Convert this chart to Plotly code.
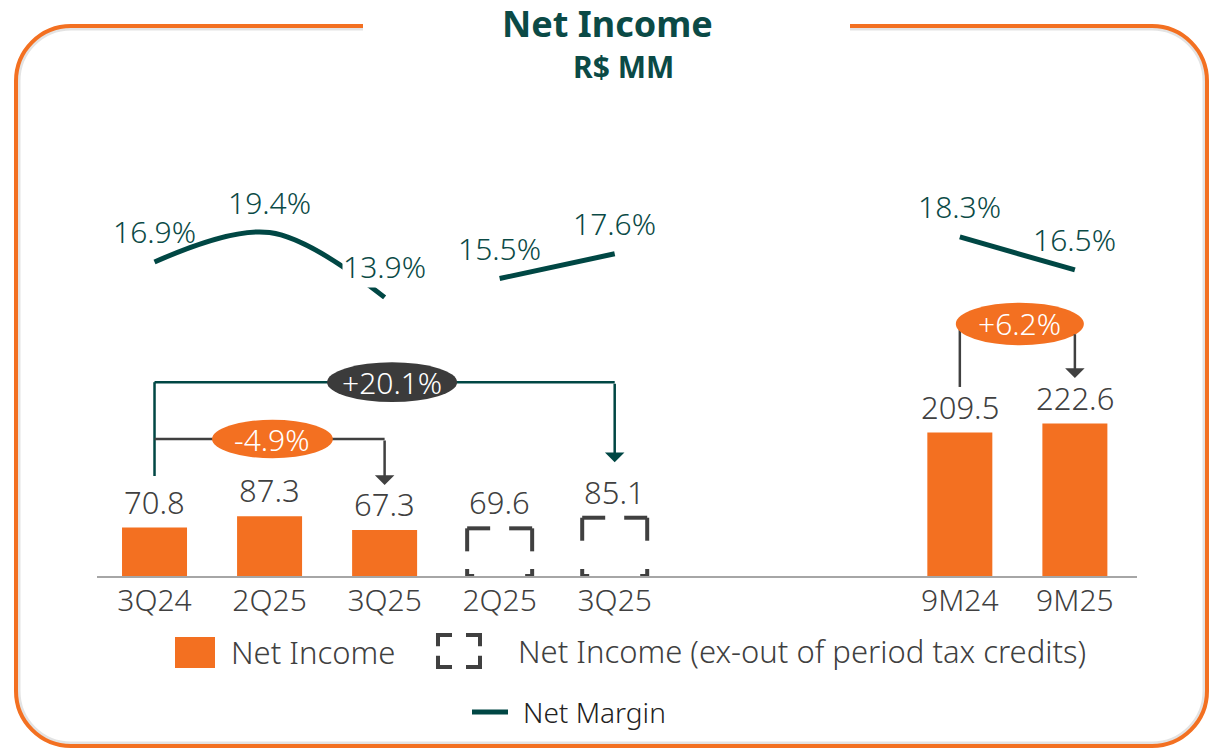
import plotly.graph_objects as go

# data
quarters = ["3Q24", "2Q25", "3Q25"]
net_income_q = [70.8, 87.3, 67.3]
adj_quarters = ["2Q25", "3Q25"]
net_income_adj = [69.6, 85.1]
ytd = ["9M24", "9M25"]
net_income_ytd = [209.5, 222.6]
margin_q = [16.9, 19.4, 13.9]
margin_adj = [15.5, 17.6]
margin_ytd = [18.3, 16.5]
changes = ["+20.1%", "-4.9%", "+6.2%"]

ORANGE = "#F37021"
TEAL = "#004744"
TEXT_TEAL = "#0B4A46"
GREY = "#404040"
DARK = "#3B3B3B"
FONT = "Noto Sans"

W, H = 1216, 750
L, R, T, B = 97, 79, 100, 174
PW, PH = W - L - R, H - T - B


def px(x):
    return (x - L) / PW


def py(y):
    return (H - B - y) / PH


pos_q = [0, 1, 2]
pos_adj = [3, 4]
pos_ytd = [7, 8]
bar_w = 0.565

fig = go.Figure()

fig.add_trace(go.Bar(x=pos_q + pos_ytd, y=net_income_q + net_income_ytd,
                     width=bar_w, marker=dict(color=ORANGE, line_width=0),
                     showlegend=False, hoverinfo="skip"))

# dashed (bracket-corner) boxes for the adjusted values
top_x, top_y, bot_x, bot_y = [], [], [], []
for p, v in zip(pos_adj, net_income_adj):
    x0, x1 = p - bar_w / 2, p + bar_w / 2
    for cx in (x0, x1):
        top_x += [cx, p, None, cx, cx, None]
        top_y += [v, v, None, v, v / 2, None]
        bot_x += [cx, cx, None, cx, p, None]
        bot_y += [0, v / 2, None, 0, 0, None]
fig.add_trace(go.Scatter(x=top_x, y=top_y, mode="lines", connectgaps=False,
                         line=dict(color=GREY, width=4, dash="23px,400px"),
                         showlegend=False, hoverinfo="skip"))
fig.add_trace(go.Scatter(x=bot_x, y=bot_y, mode="lines", connectgaps=False,
                         line=dict(color=GREY, width=4, dash="7px,400px"),
                         showlegend=False, hoverinfo="skip"))

# net margin lines
fig.add_trace(go.Scatter(x=pos_q, y=margin_q, yaxis="y2", mode="lines",
                         line=dict(color=TEAL, width=5, shape="spline", smoothing=1),
                         showlegend=False, hoverinfo="skip"))
fig.add_trace(go.Scatter(x=pos_adj, y=margin_adj, yaxis="y2", mode="lines",
                         line=dict(color=TEAL, width=5),
                         showlegend=False, hoverinfo="skip"))
fig.add_trace(go.Scatter(x=pos_ytd, y=margin_ytd, yaxis="y3", mode="lines",
                         line=dict(color=TEAL, width=5),
                         showlegend=False, hoverinfo="skip"))

annotations = []
val_font = dict(family=FONT, size=31, color=GREY, weight=300)
for p, v in zip(pos_q + pos_adj + pos_ytd, net_income_q + net_income_adj + net_income_ytd):
    annotations.append(dict(x=p, y=v, xref="x", yref="y", text=f"{v:.1f}",
                            showarrow=False, yanchor="bottom", yshift=3, font=val_font))

m_font = dict(family=FONT, size=30, color=TEXT_TEAL, weight=300)
for ax, ps, vs in (("y2", pos_q, margin_q), ("y2", pos_adj, margin_adj), ("y3", pos_ytd, margin_ytd)):
    for p, v in zip(ps, vs):
        # the label of the dip sits on the curve and masks it
        bg = "white" if v == min(margin_q) else "rgba(0,0,0,0)"
        annotations.append(dict(x=p, y=v, xref="x", yref=ax, text=f"{v:.1f}%",
                                showarrow=False, yanchor="bottom", yshift=9,
                                bgcolor=bg, borderpad=0, font=m_font))

# change brackets (data units of the bar axis)
shapes = []


def seg(x0, y0, x1, y1, color):
    shapes.append(dict(type="line", xref="x", yref="y", x0=x0, y0=y0, x1=x1, y1=y1,
                       line=dict(color=color, width=2.5)))


def arrow(x, y_from, y_to, color):
    annotations.append(dict(x=x, y=y_to, ax=x, ay=y_from, xref="x", yref="y",
                            axref="x", ayref="y", text="", showarrow=True,
                            arrowhead=1, arrowsize=1.3, arrowwidth=2.5,
                            arrowcolor=color, standoff=0))


def bubble(x0, x1, y0, y1, fill, label):
    shapes.append(dict(type="circle", xref="x", yref="y", x0=x0, x1=x1, y0=y0, y1=y1,
                       fillcolor=fill, line=dict(width=0)))
    annotations.append(dict(x=(x0 + x1) / 2, y=(y0 + y1) / 2, xref="x", yref="y",
                            text=label, showarrow=False,
                            font=dict(family=FONT, size=30, color="white", weight=300)))


# 3Q24 -> 3Q25 ex-credits
seg(pos_q[0], 146, pos_q[0], 283, TEAL)
seg(pos_q[0], 283, pos_adj[1], 283, TEAL)
arrow(pos_adj[1], 283, 166, TEAL)
bubble(1.50, 2.63, 254, 312, DARK, changes[0])

# 3Q24 -> 3Q25
seg(pos_q[0], 200, pos_q[2], 200, GREY)
arrow(pos_q[2], 200, 133, GREY)
bubble(0.50, 1.55, 172, 228, ORANGE, changes[1])

# 9M24 -> 9M25
seg(pos_ytd[0], 276, pos_ytd[0], 368, GREY)
arrow(pos_ytd[1], 355, 289, GREY)
bubble(6.965, 8.078, 337, 399, ORANGE, changes[2])


# rounded frame with a gap for the title
def frame(x0, y0, x1, y1, r, g0, g1):
    k = 0.5523 * r

    def P(x, y):
        return f"{px(x):.5f},{py(y):.5f}"
    d = f"M{P(g0, y0)} L{P(x0 + r, y0)} C{P(x0 + r - k, y0)} {P(x0, y0 + r - k)} {P(x0, y0 + r)} "
    d += f"L{P(x0, y1 - r)} C{P(x0, y1 - r + k)} {P(x0 + r - k, y1)} {P(x0 + r, y1)} "
    d += f"L{P(x1 - r, y1)} C{P(x1 - r + k, y1)} {P(x1, y1 - r + k)} {P(x1, y1 - r)} "
    d += f"L{P(x1, y0 + r)} C{P(x1, y0 + r - k)} {P(x1 - r + k, y0)} {P(x1 - r, y0)} L{P(g1, y0)}"
    return d


shapes.insert(0, dict(type="path", xref="paper", yref="paper", layer="below",
                      path=frame(19, 29, 1204, 743, 52, 363, 850),
                      line=dict(color="#E3E3E3", width=3)))
shapes.insert(1, dict(type="path", xref="paper", yref="paper", layer="below",
                      path=frame(16, 26, 1207, 746, 55, 363, 850),
                      line=dict(color=ORANGE, width=4)))

# title
annotations.append(dict(x=px(607), y=py(24), xref="paper", yref="paper", text="<b>Net Income</b>",
                        showarrow=False, xanchor="center", yanchor="middle", borderpad=0,
                        font=dict(family=FONT, size=36, color=TEXT_TEAL)))
annotations.append(dict(x=px(623), y=py(66), xref="paper", yref="paper", text="<b>R$ MM</b>",
                        showarrow=False, xanchor="center", yanchor="middle",
                        font=dict(family=FONT, size=30, color=TEXT_TEAL)))

# legend (drawn by hand)
leg_font = dict(family=FONT, size=31, color=GREY, weight=300)
shapes.append(dict(type="rect", xref="paper", yref="paper", x0=px(175), x1=px(215),
                   y0=py(668), y1=py(637), fillcolor=ORANGE, line=dict(width=0)))
annotations.append(dict(x=px(229), y=py(652), xref="paper", yref="paper", text="Net Income",
                        showarrow=False, xanchor="left", yanchor="middle", font=leg_font))
lx0, lx1, ly0, ly1, arm = 438, 480, 635, 667, 14
icon = ""
for cx, sx in ((lx0, 1), (lx1, -1)):
    for cy, sy in ((ly0, 1), (ly1, -1)):
        icon += f"M{px(cx + sx * arm):.5f},{py(cy):.5f} L{px(cx):.5f},{py(cy):.5f} L{px(cx):.5f},{py(cy + sy * arm * 0.8):.5f} "
shapes.append(dict(type="path", xref="paper", yref="paper", path=icon,
                   line=dict(color=GREY, width=4)))
annotations.append(dict(x=px(516), y=py(651), xref="paper", yref="paper",
                        text="Net Income (ex-out of period tax credits)",
                        showarrow=False, xanchor="left", yanchor="middle", font=leg_font))
shapes.append(dict(type="line", xref="paper", yref="paper", x0=px(472), x1=px(508),
                   y0=py(712), y1=py(712), line=dict(color=TEAL, width=5)))
annotations.append(dict(x=px(521), y=py(712), xref="paper", yref="paper", text="Net Margin",
                        showarrow=False, xanchor="left", yanchor="middle",
                        font=dict(family=FONT, size=28, color="#222222", weight=300)))

fig.update_layout(
    width=W, height=H,
    margin=dict(l=L, r=R, t=T, b=B),
    paper_bgcolor="white", plot_bgcolor="white",
    xaxis=dict(range=[-0.5, 8.54], tickvals=pos_q + pos_adj + pos_ytd,
               ticktext=quarters + adj_quarters + ytd, showgrid=False, zeroline=False,
               showline=True, linecolor="#A6A6A6", linewidth=2, ticks="",
               ticklabelstandoff=-3, tickfont=dict(family=FONT, size=30, color=GREY, weight=300)),
    yaxis=dict(range=[0, 695], visible=False),
    yaxis2=dict(range=[-9.71, 30.63], overlaying="y", visible=False),
    yaxis3=dict(range=[-0.19, 25.77], overlaying="y", visible=False),
    shapes=shapes,
    annotations=annotations,
    showlegend=False,
)

fig.write_html("out.html", config={"displayModeBar": False},
               post_script="document.body.style.margin='0px';")
